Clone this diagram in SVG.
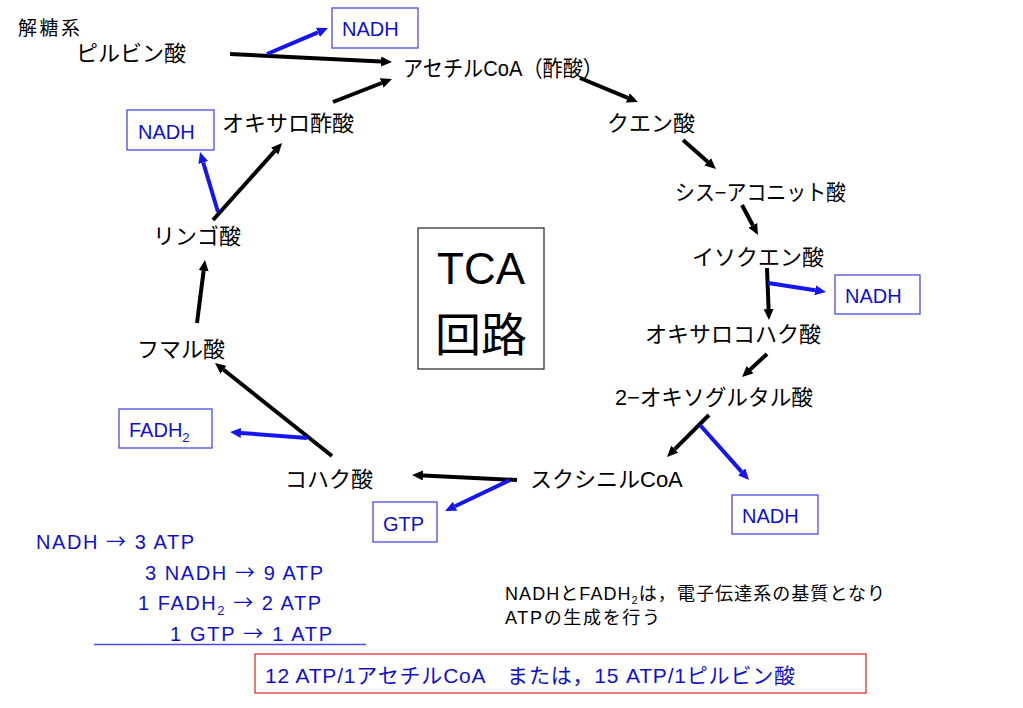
<svg xmlns="http://www.w3.org/2000/svg" width="1023" height="708" viewBox="0 0 1023 708">
<style>
text{font-family:"Liberation Sans","Noto Sans CJK JP",sans-serif;}
.lbl{font-size:22px;fill:#000;}
.nb{font-size:20px;fill:#1010cc;}
.box{fill:none;stroke:#4a4ae6;stroke-width:1.3;}
.eq{font-size:20px;fill:#1010cc;}
.ar{font-family:"Noto Sans CJK JP",sans-serif;}
.blk{stroke:#000;stroke-width:4;fill:none;marker-end:url(#ab);}
.blu{stroke:#1515ee;stroke-width:4;fill:none;marker-end:url(#au);}
</style>
<defs>
<marker id="ab" viewBox="0 0 11 10" refX="0" refY="5" markerWidth="11" markerHeight="10" markerUnits="userSpaceOnUse" orient="auto"><path d="M0,0 L11,5 L0,10 z" fill="#000"/></marker>
<marker id="au" viewBox="0 0 11 10" refX="0" refY="5" markerWidth="11" markerHeight="10" markerUnits="userSpaceOnUse" orient="auto"><path d="M0,0 L11,5 L0,10 z" fill="#1515ee"/></marker>
</defs>
<rect width="1023" height="708" fill="#fff"/>

<g id="connectors">
<line class="blk" x1="230" y1="54" x2="381" y2="61.5"/>
<line class="blk" x1="333" y1="102" x2="381.7" y2="83"/>
<line class="blk" x1="213" y1="220" x2="274.7" y2="151.2"/>
<line class="blk" x1="580" y1="78" x2="627.8" y2="97.8"/>
<line class="blk" x1="683" y1="140" x2="707.7" y2="161.7"/>
<line class="blk" x1="742" y1="205" x2="752.8" y2="225.3"/>
<line class="blk" x1="767" y1="268" x2="768.6" y2="309"/>
<line class="blk" x1="767" y1="354" x2="750.1" y2="369.6"/>
<line class="blk" x1="709" y1="415" x2="674.8" y2="449.2"/>
<line class="blk" x1="517" y1="480" x2="423" y2="475.5"/>
<line class="blk" x1="332" y1="456" x2="223.6" y2="369.8"/>
<line class="blk" x1="197" y1="323" x2="203.6" y2="270.9"/>
<line class="blu" x1="267" y1="54" x2="317.9" y2="32.3"/>
<line class="blu" x1="218" y1="212" x2="203.2" y2="162.5"/>
<line class="blu" x1="768" y1="283" x2="815.1" y2="290.3"/>
<line class="blu" x1="700" y1="425" x2="741.7" y2="471.8"/>
<line class="blu" x1="510" y1="480" x2="455" y2="506.3"/>
<line class="blu" x1="307" y1="438" x2="241" y2="432.9"/>
</g>

<g id="glycolysis"><text x="18" y="35" style="font-size:19px" textLength="62" lengthAdjust="spacing">解糖系</text></g>
<g id="pyruvate"><text class="lbl" x="76" y="61">ピルビン酸</text></g>
<g id="acetylcoa"><text class="lbl" x="403" y="76" textLength="200" lengthAdjust="spacingAndGlyphs">アセチルCoA（酢酸）</text></g>
<g id="oxaloacetate"><text class="lbl" x="222" y="131">オキサロ酢酸</text></g>
<g id="citrate"><text class="lbl" x="607" y="131">クエン酸</text></g>
<g id="cisaconitate"><text class="lbl" x="675" y="200" textLength="171" lengthAdjust="spacingAndGlyphs">シス−アコニット酸</text></g>
<g id="isocitrate"><text class="lbl" x="692" y="265">イソクエン酸</text></g>
<g id="oxalosuccinate"><text class="lbl" x="645" y="342">オキサロコハク酸</text></g>
<g id="oxoglutarate"><text class="lbl" x="615" y="405" textLength="198" lengthAdjust="spacingAndGlyphs">2−オキソグルタル酸</text></g>
<g id="succinylcoa"><text class="lbl" x="530" y="487">スクシニルCoA</text></g>
<g id="succinate"><text class="lbl" x="285" y="487">コハク酸</text></g>
<g id="fumarate"><text class="lbl" x="137" y="357">フマル酸</text></g>
<g id="malate"><text class="lbl" x="153" y="244">リンゴ酸</text></g>

<g id="tca"><rect x="418" y="228" width="126" height="141" fill="none" stroke="#333" stroke-width="1.3"/>
<text x="481" y="284" text-anchor="middle" style="font-size:44px">TCA</text>
<text x="481" y="351" text-anchor="middle" style="font-size:46px">回路</text></g>

<g id="nadh1"><rect class="box" x="332" y="8" width="86" height="40"/><text class="nb" x="342" y="36">NADH</text></g>
<g id="nadh2"><rect class="box" x="127" y="110" width="87" height="40"/><text class="nb" x="138" y="139">NADH</text></g>
<g id="nadh3"><rect class="box" x="835" y="275" width="85" height="39"/><text class="nb" x="845" y="303">NADH</text></g>
<g id="nadh4"><rect class="box" x="732" y="495" width="86" height="39"/><text class="nb" x="742" y="523">NADH</text></g>
<g id="fadh2"><rect class="box" x="119" y="409" width="93" height="39"/><text class="nb" x="129" y="437">FADH<tspan style="font-size:13px" dy="5">2</tspan></text></g>
<g id="gtp"><rect class="box" x="373" y="502" width="64" height="40"/><text class="nb" x="383" y="531">GTP</text></g>

<g id="summary">
<text class="eq" x="36" y="549" textLength="158" lengthAdjust="spacing">NADH <tspan class="ar">→</tspan> 3 ATP</text>
<text class="eq" x="145" y="580" textLength="178" lengthAdjust="spacing">3 NADH <tspan class="ar">→</tspan> 9 ATP</text>
<text class="eq" x="138" y="610" textLength="183" lengthAdjust="spacing">1 FADH<tspan style="font-size:13px" dy="5">2</tspan><tspan dy="-5"> </tspan><tspan class="ar">→</tspan> 2 ATP</text>
<text class="eq" x="170" y="641" textLength="162" lengthAdjust="spacing">1 GTP <tspan class="ar">→</tspan> 1 ATP</text>
<line x1="94" y1="644.5" x2="366" y2="644.5" stroke="#4a4ae6" stroke-width="1.3"/>
</g>

<g id="note">
<text x="505" y="600" style="font-size:18px" textLength="380" lengthAdjust="spacing">NADHとFADH<tspan style="font-size:11px" dy="4">2</tspan><tspan dy="-4">は，電子伝達系の基質となり</tspan></text>
<text x="505" y="624" style="font-size:18px" textLength="155" lengthAdjust="spacing">ATPの生成を行う</text>
</g>

<g id="total"><rect x="255" y="654" width="611" height="39" fill="none" stroke="#e03030" stroke-width="1.3"/>
<text x="265" y="683" style="font-size:21px;fill:#1010cc" textLength="530" lengthAdjust="spacing">12 ATP/1アセチルCoA　または，15 ATP/1ピルビン酸</text></g>
</svg>
